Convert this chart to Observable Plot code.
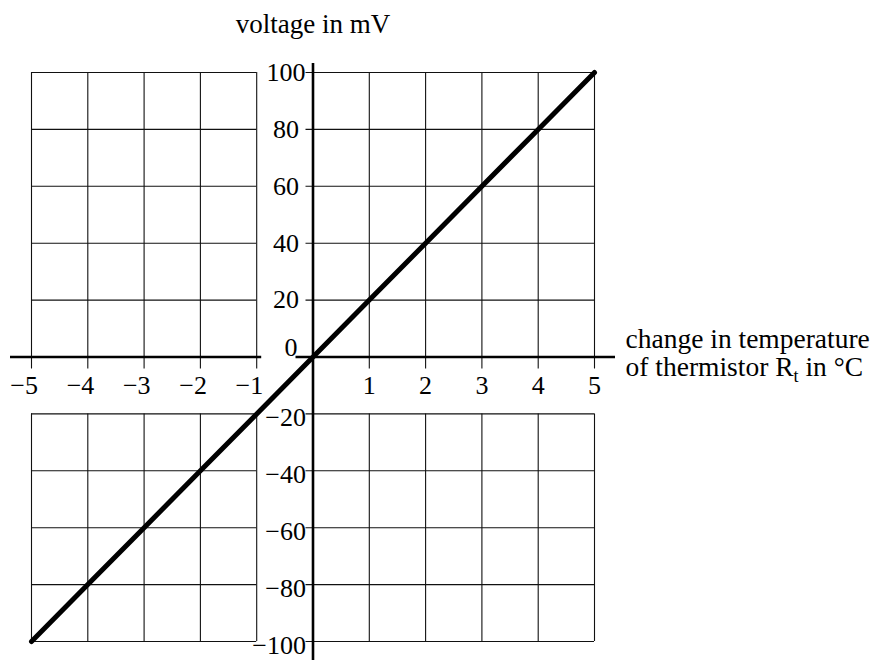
<!DOCTYPE html>
<html>
<head>
<meta charset="utf-8">
<script src="https://cdn.jsdelivr.net/npm/d3@7"></script>
<script src="https://cdn.jsdelivr.net/npm/@observablehq/plot@0.6"></script>
<style>
  html, body { margin: 0; padding: 0; background: #fff; }
</style>
</head>
<body>
<div id="chart"></div>
<script>
// Thermistor bridge output: voltage against change in temperature
const temperatureChange = [-5, -4, -3, -2, -1, 0, 1, 2, 3, 4, 5];
const voltage = [-100, -80, -60, -40, -20, 0, 20, 40, 60, 80, 100];

const xTickValues = [-5, -4, -3, -2, -1, 1, 2, 3, 4, 5];
const yGridValues = [-100, -80, -60, -40, -20, 20, 40, 60, 80, 100];
const yTickValues = [-100, -80, -60, -40, -20, 0, 20, 40, 60, 80, 100];

const yTitle = "voltage in mV";
const xTitleLine1 = "change in temperature";
const xTitleLine2 = "of thermistor Rt in °C";

const points = temperatureChange.map((t, i) => ({t, v: voltage[i]}));
const fmt = d => (d < 0 ? "\u2212" + Math.abs(d) : String(d));

const font = "'Liberation Serif', 'Times New Roman', serif";
const gridStroke = {stroke: "#111", strokeWidth: 1.1};

const chart = Plot.plot({
  width: 887,
  height: 660,
  marginLeft: 31,
  marginRight: 293,
  marginTop: 72,
  marginBottom: 19,
  style: {fontFamily: font, fontSize: "26px", background: "#fff", color: "#000"},
  x: {domain: [-5, 5], axis: null},
  y: {domain: [-100, 100], axis: null},
  marks: [
    // vertical grid, left open in the band that holds the x tick labels
    Plot.ruleX(xTickValues, {y1: 100, y2: 0, insetBottom: -12, ...gridStroke}),
    Plot.ruleX(xTickValues, {y1: -20, y2: -100, ...gridStroke}),
    // horizontal grid, left open in the column that holds the y tick labels
    Plot.ruleY(yGridValues, {x1: -5, x2: -1, ...gridStroke}),
    Plot.ruleY(yGridValues, {x1: 0, x2: 5, insetLeft: -7, ...gridStroke}),
    // axes
    Plot.ruleY([0], {x1: -5, x2: -1, insetLeft: -21, insetRight: -5, stroke: "#000", strokeWidth: 2.6}),
    Plot.ruleY([0], {x1: 0, x2: 5, insetLeft: -17, insetRight: -21, stroke: "#000", strokeWidth: 2.6}),
    Plot.ruleX([0], {y1: 100, y2: -100, insetTop: -9, insetBottom: -19, stroke: "#000", strokeWidth: 2.6}),
    // x tick labels (digit centred on the grid line)
    Plot.text(xTickValues, {x: d => d, y: 0, text: fmt, textAnchor: "end", dx: 6.5, dy: 29, fill: "#000", fontSize: 26}),
    // y tick labels
    Plot.text(yTickValues.filter(d => d > 0), {x: 0, y: d => d, text: fmt, textAnchor: "middle", dx: -27, fill: "#000", fontSize: 26}),
    Plot.text(yTickValues.filter(d => d < 0), {x: 0, y: d => d, text: fmt, textAnchor: "end", dx: -7, dy: 4, fill: "#000", fontSize: 26}),
    Plot.text(yTickValues.filter(d => d === 0), {x: 0, y: d => d, text: fmt, textAnchor: "middle", dx: -22, dy: -9, fill: "#000", fontSize: 26}),
    // data line
    Plot.line(points, {x: "t", y: "v", stroke: "#000", strokeWidth: 5}),
    // axis titles
    Plot.text([yTitle], {x: 0, y: 100, text: d => d, dy: -48, textAnchor: "middle", fill: "#000", fontSize: 27}),
    Plot.text([xTitleLine1], {x: 5, y: 0, text: d => d, dx: 31, dy: -18, textAnchor: "start", fill: "#000", fontSize: 27.5}),
    Plot.text([xTitleLine2], {x: 5, y: 0, text: d => d, dx: 31, dy: 10, textAnchor: "start", fill: "#000", fontSize: 27.5})
  ]
});

// subscript t in "Rt"
chart.querySelectorAll("text").forEach(el => {
  if (el.textContent === xTitleLine2) {
    const ns = "http://www.w3.org/2000/svg";
    el.textContent = "";
    const a = document.createElementNS(ns, "tspan");
    a.textContent = "of thermistor R";
    const sub = document.createElementNS(ns, "tspan");
    sub.textContent = "t";
    sub.setAttribute("font-size", "18");
    sub.setAttribute("dy", "6");
    const b = document.createElementNS(ns, "tspan");
    b.textContent = " in °C";
    b.setAttribute("dy", "-6");
    el.append(a, sub, b);
  }
});

document.getElementById("chart").append(chart);
</script>
</body>
</html>
